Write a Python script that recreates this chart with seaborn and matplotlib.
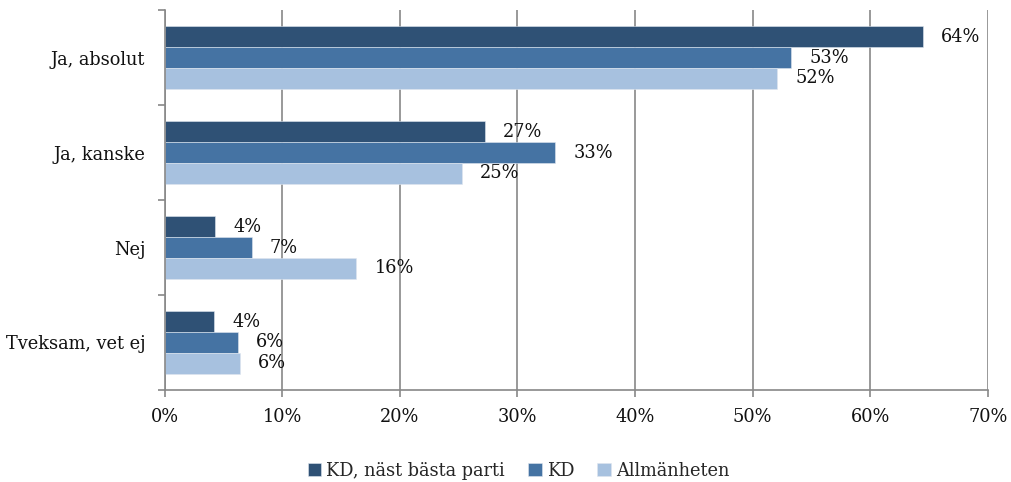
import pandas as pd
import numpy as np
import matplotlib
matplotlib.use('Agg')
import matplotlib.pyplot as plt
import seaborn as sns
from matplotlib.ticker import FuncFormatter, FixedLocator

# data
kategorier = ['Ja, absolut', 'Ja, kanske', 'Nej', 'Tveksam, vet ej']
serier = ['KD, näst bästa parti', 'KD', 'Allmänheten']
kd_nast = [64.5, 27.2, 4.3, 4.2]
kd = [53.3, 33.2, 7.4, 6.2]
allm = [52.1, 25.3, 16.3, 6.4]
farger = ['#2f5175', '#4573a3', '#a7c1df']

df = pd.DataFrame({
    'kategori': kategorier * 3,
    'serie': [serier[0]] * 4 + [serier[1]] * 4 + [serier[2]] * 4,
    'andel': kd_nast + kd + allm,
})

sns.set_theme(style='white')
plt.rcParams['font.family'] = ['DejaVu Serif', 'Liberation Serif']
grey = '#888888'
fs = 12.8

fig = plt.figure(figsize=(10.11, 4.82), dpi=100)
ax = fig.add_axes([0.163, 0.191, 0.814, 0.788])
sns.barplot(data=df, y='kategori', x='andel', hue='serie', palette=farger,
            orient='h', width=0.66, edgecolor='#dfe6ef', linewidth=0.4,
            saturation=1, ax=ax)

for c in ax.containers:
    ax.bar_label(c, labels=['%d%%' % round(v) for v in c.datavalues],
                 padding=13, fontsize=fs, color='#111111')

ax.set_xlim(0, 70)
ax.set_ylim(3.5, -0.5)
ax.set_xticks(np.arange(0, 71, 10))
ax.xaxis.set_major_formatter(FuncFormatter(lambda v, p: '%d%%' % v))
ax.set_yticks(range(4))
ax.yaxis.set_minor_locator(FixedLocator(np.arange(-0.5, 4, 1)))
ax.tick_params(axis='y', which='major', length=0, labelsize=fs, pad=14, colors='#111111')
ax.tick_params(axis='y', which='minor', length=5, width=1.2, color=grey, left=True)
ax.tick_params(axis='x', length=5, width=1.2, color=grey, labelsize=fs, pad=8,
               labelcolor='#111111', bottom=True)
ax.set_xlabel('')
ax.set_ylabel('')
ax.grid(axis='x', color=grey, linewidth=1.2)
ax.set_axisbelow(True)
for s in ['top', 'right']:
    ax.spines[s].set_visible(False)
for s in ['left', 'bottom']:
    ax.spines[s].set_color(grey)
    ax.spines[s].set_linewidth(1.2)

ax.legend(loc='upper center', bbox_to_anchor=(0.43, -0.17), ncol=3, frameon=False,
          fontsize=fs, handlelength=0.75, handleheight=0.75, handletextpad=0.3,
          columnspacing=1.3, borderaxespad=0)

fig.savefig('out.png', dpi=100)
